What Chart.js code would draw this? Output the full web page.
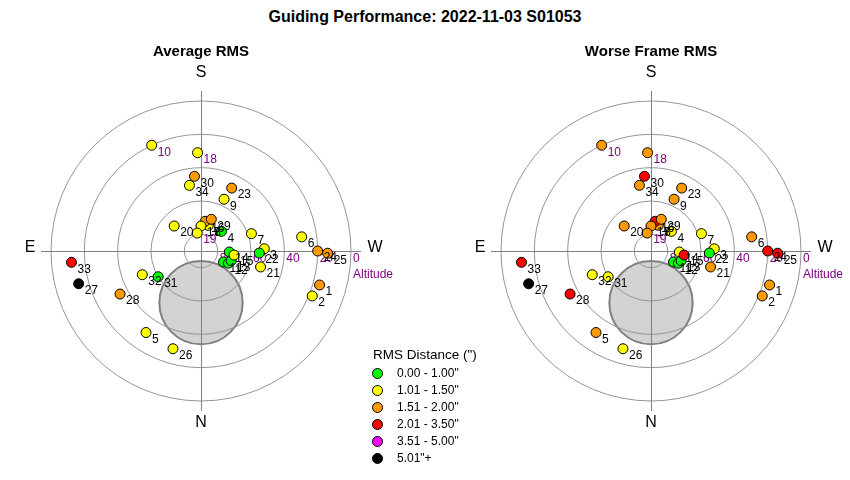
<!DOCTYPE html>
<html>
<head>
<meta charset="utf-8">
<script src="https://cdn.jsdelivr.net/npm/chart.js@4.4.1/dist/chart.umd.min.js"></script>
<style>
  body { margin:0; background:#fff; font-family:"Liberation Sans", Arial, sans-serif; }
  #wrap { position:relative; width:850px; height:480px; overflow:hidden; }
  canvas { position:absolute; top:30px; }
  #titre { position:absolute; top:8px; left:0; width:850px; text-align:center; font-weight:bold; font-size:16px; }
  #llegenda { position:absolute; left:368px; top:347px; font-size:12px; }
  #llegenda .cap { font-size:13.5px; margin-bottom:3px; margin-left:5px; }
  #llegenda .item { height:17px; line-height:17px; position:relative; }
  #llegenda .dot { position:absolute; left:4px; top:3px; width:9px; height:9px; border-radius:50%; border:1px solid #000; }
  #llegenda .txt { position:absolute; left:29px; }
</style>
</head>
<body>
<div id="wrap">
  <div id="titre">Guiding Performance: 2022-11-03 S01053</div>
  <canvas id="mitjana" width="402" height="440" style="left:0px"></canvas>
  <canvas id="pitjor" width="402" height="440" style="left:450px"></canvas>
  <div id="llegenda"></div>
</div>
<script>
// ---------- Dades ----------
const punts = [1,2,3,4,5,6,7,8,9,10,11,12,13,14,15,16,17,18,19,20,21,22,23,24,25,26,27,28,29,30,31,32,33,34];
const azimut = [286,292,268,226,34,262,251,196,204,155,296,294,288,272,277,188,180,178,168,133,285,272,206,270,271,16,75,62,198,175,59,68,85,170];
const altitud = [16,18,52,73,31,29,58,74,56,20,75,72,71,73,70,72,75,31,79,68,53,55,48,20,14,29,14,35,70,45,60,52,12,50];
// classe RMS: 0 verd, 1 groc, 2 taronja, 3 vermell, 4 magenta, 5 negre
const classeMitjana = [2,1,1,0,1,1,1,1,1,1,0,0,0,0,1,2,1,1,1,1,1,0,2,2,2,1,5,2,2,2,0,1,3,1];
const classePitjor  = [2,2,1,1,2,2,1,2,2,2,0,0,0,1,3,3,2,2,2,2,2,0,2,3,3,1,5,3,2,3,1,1,3,2];
const etiquetesLila = [10,18,19];

const llegendaTitol = 'RMS Distance (")';
const llegendaText = ['0.00 - 1.00"','1.01 - 1.50"','1.51 - 2.00"','2.01 - 3.50"','3.51 - 5.00"','5.01"+'];
const colors = ["#00ff00","#ffff00","#ff9900","#ff0000","#ff00ff","#000000"];

const altitudsGraella = [0,20,40,60,80];
// zona ombrejada (obstrucció)
const obstAz = 0, obstAlt = 59, obstRadi = 25;

// az/alt -> coordenades del pla (N avall, E a l'esquerra)
function aPla(az, alt) {
  const zd = 90 - alt;
  const a = az * Math.PI / 180;
  return { x: -zd * Math.sin(a), y: -zd * Math.cos(a) };
}

const dadesPunts = punts.map((p, i) => aPla(azimut[i], altitud[i]));

// ---------- Plugin polar ----------
const polar = {
  id: "polar",
  beforeDatasetsDraw(chart, args, opts) {
    const ctx = chart.ctx;
    const sx = chart.scales.x, sy = chart.scales.y;
    const cx = sx.getPixelForValue(0), cy = sy.getPixelForValue(0);
    const px = v => sx.getPixelForValue(v) - cx;

    ctx.save();
    // obstrucció
    const o = aPla(obstAz, obstAlt);
    ctx.beginPath();
    ctx.arc(sx.getPixelForValue(o.x), sy.getPixelForValue(o.y), px(obstRadi), 0, Math.PI * 2);
    ctx.fillStyle = "#d3d3d3";
    ctx.fill();
    ctx.lineWidth = 2;
    ctx.strokeStyle = "#808080";
    ctx.stroke();

    // cercles
    ctx.lineWidth = 1;
    ctx.strokeStyle = "#959595";
    altitudsGraella.forEach(a => {
      ctx.beginPath();
      ctx.arc(cx, cy, px(90 - a), 0, Math.PI * 2);
      ctx.stroke();
    });
    // eixos
    const ext = px(96);
    ctx.strokeStyle = "#808080";
    ctx.beginPath();
    ctx.moveTo(cx - ext, cy + 0.5); ctx.lineTo(cx + ext, cy + 0.5);
    ctx.moveTo(cx + 0.5, cy - ext); ctx.lineTo(cx + 0.5, cy + ext);
    ctx.stroke();

    // textos
    ctx.fillStyle = "#000";
    ctx.textAlign = "center";
    ctx.textBaseline = "middle";
    ctx.font = "bold 15px 'Liberation Sans', Arial";
    ctx.fillText(opts.titol, cx, cy - 199);
    ctx.font = "16px 'Liberation Sans', Arial";
    ctx.fillText("S", cx, cy - 178);
    ctx.fillText("N", cx, cy + 172);
    ctx.fillText("E", cx - 171, cy - 3);
    ctx.fillText("W", cx + 174, cy - 3);

    ctx.fillStyle = "#800080";
    ctx.font = "12px 'Liberation Sans', Arial";
    ctx.textAlign = "left";
    ctx.fillText("Altitude", cx + 152, cy + 24);
    ctx.textBaseline = "top";
    altitudsGraella.forEach(a => {
      ctx.fillText(String(a), cx + px(90 - a) + 2, cy + 2);
    });
    ctx.restore();
  },
  afterDatasetsDraw(chart) {
    const ctx = chart.ctx;
    const meta = chart.getDatasetMeta(0);
    ctx.save();
    ctx.font = "12px 'Liberation Sans', Arial";
    ctx.textAlign = "left";
    ctx.textBaseline = "middle";
    meta.data.forEach((el, i) => {
      ctx.fillStyle = etiquetesLila.includes(punts[i]) ? "#800080" : "#000";
      ctx.fillText(String(punts[i]), el.x + 6, el.y + 7);
    });
    ctx.restore();
  }
};

function grafic(id, classes, titol) {
  return new Chart(document.getElementById(id), {
    type: "scatter",
    data: {
      datasets: [{
        data: dadesPunts,
        pointRadius: 5,
        pointHoverRadius: 5,
        pointBackgroundColor: classes.map(c => colors[c]),
        pointBorderColor: "#000",
        pointBorderWidth: 1
      }]
    },
    options: {
      responsive: false,
      animation: false,
      layout: { padding: { left: 26, right: 26, top: 46, bottom: 44 } },
      scales: {
        x: { type: "linear", min: -105, max: 105, display: false },
        y: { type: "linear", min: -105, max: 105, display: false }
      },
      plugins: {
        legend: { display: false },
        tooltip: { enabled: false },
        polar: { titol: titol }
      }
    },
    plugins: [polar]
  });
}

grafic("mitjana", classeMitjana, "Average RMS");
grafic("pitjor", classePitjor, "Worse Frame RMS");

// ---------- Llegenda ----------
const lleg = document.getElementById("llegenda");
lleg.innerHTML = `<div class="cap">${llegendaTitol}</div>` +
  llegendaText.map((t, i) =>
    `<div class="item"><span class="dot" style="background:${colors[i]}"></span><span class="txt">${t}</span></div>`
  ).join("");
</script>
</body>
</html>
